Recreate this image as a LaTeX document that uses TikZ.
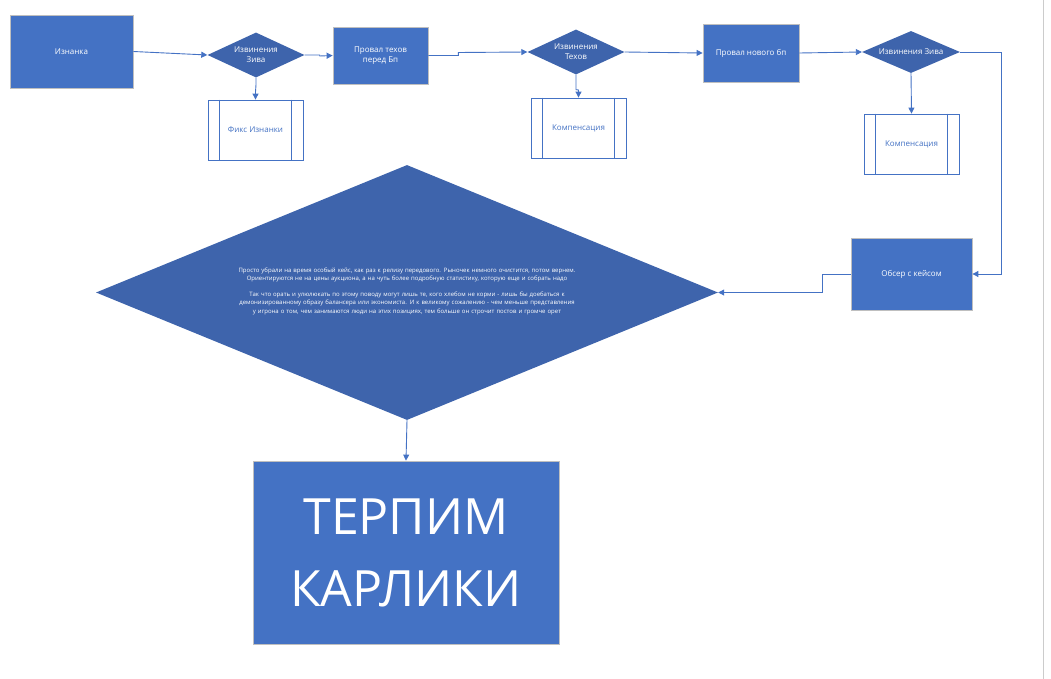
\documentclass[tikz,border=0pt]{standalone}
\usepackage{fontspec}
\setmainfont{Open Sans}
\usetikzlibrary{shapes.geometric,arrows.meta}
\definecolor{bl}{HTML}{4472C4}
\definecolor{dbl}{HTML}{3E64AC}
\definecolor{ln}{HTML}{4472C4}
\begin{document}
\begin{tikzpicture}[x=1pt,y=-1pt,
  box/.style={fill=bl,draw=black!25,line width=0.8pt,text=white,font=\fontsize{8}{10}\selectfont,align=center,inner sep=0pt},
  dia/.style={diamond,fill=dbl,draw=none,text=white,font=\fontsize{8}{10}\selectfont,align=center,inner sep=0pt,aspect=2.1},
  sub/.style={draw=bl,fill=white,line width=0.8pt,text=bl,font=\fontsize{8}{10}\selectfont,inner sep=0pt},
  con/.style={draw=ln,line width=0.9pt,-{Triangle[length=6pt,width=6pt]}}]
\useasboundingbox (0,0) rectangle (1051,679);
\draw[black!20] (1043,0) -- (1043,679);
% nodes
\node[box,minimum width=123,minimum height=73] (izn) at (71.5,51.5) {Изнанка};
\node[dia,minimum width=97,minimum height=45] (d1) at (256,55) {Извинения\\Зива};
\node[box,minimum width=95,minimum height=57] (p1) at (380.5,55.5) {Провал техов\\перед Бп};
\node[dia,minimum width=97,minimum height=45] (d2) at (576,52) {Извинения\\Техов};
\node[box,minimum width=96,minimum height=58] (p2) at (751,53) {Провал нового бп};
\node[dia,minimum width=98,minimum height=42] (d3) at (911,52) {Извинения Зива};
\node[sub,minimum width=95,minimum height=60] (f1) at (255.5,130) {Фикс Изнанки};
\node[sub,minimum width=95,minimum height=60] (k1) at (578.5,128) {Компенсация};
\node[sub,minimum width=95,minimum height=60] (k2) at (911.5,144) {Компенсация};
\foreach \n in {f1,k1,k2}{
  \draw[bl,line width=0.8pt] ([xshift=12]\n.north west) -- ([xshift=12]\n.south west);
  \draw[bl,line width=0.8pt] ([xshift=-12]\n.north east) -- ([xshift=-12]\n.south east);}
\node[box,minimum width=121,minimum height=72] (obs) at (911.5,274) {Обсер с кейсом};
\node[diamond,fill=dbl,minimum width=622,minimum height=255,aspect=2.44,inner sep=0pt] (big) at (407,292.5) {};
\node[text=white,font=\fontsize{6}{8.2}\selectfont,align=center,text width=350] (bt) at (407,291) {Просто убрали на время особый кейс, как раз к релизу передового. Рыночек немного очистится, потом вернем. Ориентируются не на цены аукциона, а на чуть более подробную статистику, которую еще и собрать надо\\[8.2pt]
Так что орать и улюлюкать по этому поводу могут лишь те, кого хлебом не корми - лишь бы доебаться к демонизированному образу балансера или экономиста. И к великому сожалению - чем меньше представления у игрона о том, чем занимаются люди на этих позициях, тем больше он строчит постов и громче орет};
\node[box,minimum width=306,minimum height=183,font=\fontsize{50}{72}\selectfont] (ter) at (406,552.5) {ТЕРПИМ\\КАРЛИКИ};
% connectors
\draw[con] (izn.east) -- (d1.west);
\draw[con] (d1.east) -- ++(15,0) -- ++(0,1) -- (p1.west);
\draw[con] (p1.east) -- ++(30,0) -- ++(0,-3) -- (d2.west);
\draw[con] (d2.east) -- (p2.west);
\draw[con] (p2.east) -- (d3.west);
\draw[con] (d1.south) -- ++(0,7) -- (f1.north |- 0,92) -- (f1.north);
\draw[con] (d2.south) -- ++(0,15) -- (k1.north |- 0,90) -- (k1.north);
\draw[con] (d3.south) -- (k2.north);
\draw[con] (d3.east) -- (1001,52) -- (1001,274) -- (obs.east);
\draw[con] (obs.west) -- (822,274) -- (822,292.5) -- (big.east);
\draw[con] (big.south) -- (ter.north);
\end{tikzpicture}
\end{document}
